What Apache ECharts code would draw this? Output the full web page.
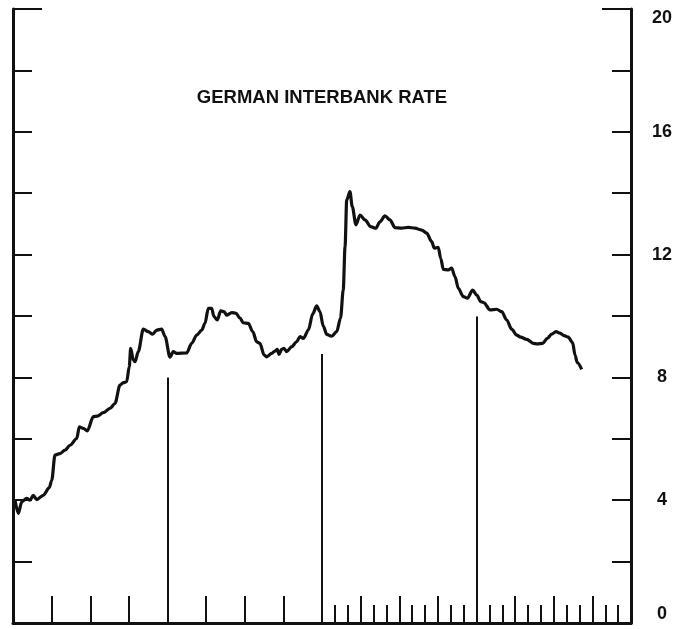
<!DOCTYPE html>
<html lang="en">
<head>
    <meta charset="UTF-8">
    <title>German Interbank Rate</title>
    <script src="https://cdn.jsdelivr.net/npm/echarts@6/dist/echarts.min.js"></script>
    <style>
        html, body { margin: 0; padding: 0; background: #ffffff; }
        #main { width: 683px; height: 629px; }
    </style>
</head>
<body>
    <div id="main"></div>
    <script>
        // months since start of chart (0..48) and the rate in percent
        var months = [0.16, 0.41, 0.68, 1.06, 1.32, 1.58, 1.84, 2.35, 2.82, 3.01, 3.26, 3.65, 4.04, 4.43, 4.95,
            5.15, 5.46, 5.77, 6.24, 6.55, 7.01, 7.53, 7.92, 8.31, 8.57, 8.83, 9.03, 9.14, 9.34, 9.48, 9.73,
            10.12, 10.51, 10.85, 11.16, 11.55, 11.81, 12.19, 12.45, 12.71, 13.49, 13.88, 14.27, 14.66, 14.91,
            15.17, 15.43, 15.61, 15.87, 16.13, 16.39, 16.60, 16.99, 17.32, 17.63, 17.89, 18.28, 18.62, 18.93,
            19.18, 19.50, 19.70, 20.09, 20.35, 20.53, 20.66, 20.87, 21.05, 21.26, 21.65, 22.03, 22.29, 22.55,
            22.94, 23.28, 23.59, 23.84, 24.10, 24.37, 24.75, 25.14, 25.44, 25.65, 25.79, 25.92, 26.17, 26.35,
            26.64, 26.95, 27.34, 27.78, 28.19, 28.50, 28.89, 29.28, 29.67, 30.19, 30.70, 31.22, 31.74, 32.13,
            32.52, 32.72, 33.03, 33.22, 33.42, 33.81, 34.07, 34.33, 34.59, 34.98, 35.29, 35.70, 36.02, 36.33,
            36.58, 37.05, 37.57, 37.96, 38.35, 38.73, 39.12, 39.43, 39.90, 40.41, 40.72, 41.14, 41.50, 41.84,
            42.17, 42.49, 42.80, 43.13, 43.47, 43.65, 43.83, 44.17];
        var rates = [4.00, 3.57, 3.95, 4.06, 4.00, 4.16, 4.02, 4.16, 4.41, 4.65, 5.47, 5.52, 5.63, 5.79, 6.01,
            6.39, 6.34, 6.26, 6.72, 6.74, 6.85, 6.99, 7.15, 7.75, 7.83, 7.86, 8.35, 8.95, 8.57, 8.51, 8.84,
            9.57, 9.49, 9.41, 9.54, 9.57, 9.33, 8.66, 8.84, 8.78, 8.80, 9.11, 9.38, 9.54, 9.76,
            10.25, 10.25, 9.98, 9.87, 10.17, 10.14, 10.03, 10.11, 10.09, 9.93, 9.78, 9.76, 9.49, 9.16,
            9.11, 8.73, 8.67, 8.78, 8.86, 8.91, 8.75, 8.91, 8.95, 8.84, 9.00, 9.16, 9.33, 9.27,
            9.54, 10.07, 10.33, 10.14, 9.67, 9.40, 9.34, 9.49, 9.93, 10.85, 12.26, 13.78, 14.05, 13.56,
            12.97, 13.29, 13.13, 12.91, 12.86, 13.07, 13.26, 13.13, 12.88, 12.86, 12.89, 12.86, 12.80, 12.70,
            12.42, 12.21, 12.24, 11.88, 11.52, 11.50, 11.56, 11.28, 10.90, 10.63, 10.58, 10.84, 10.68, 10.47,
            10.43, 10.20, 10.22, 10.14, 9.87, 9.57, 9.38, 9.31, 9.24, 9.11, 9.09, 9.11, 9.27, 9.41,
            9.49, 9.44, 9.36, 9.31, 9.13, 8.73, 8.48, 8.26];

        // year dividers and how high they reach
        var dividerMonths = [12, 24, 36];
        var dividerTops = [8.0, 8.76, 9.98];

        // tick positions
        var quarterTicks = [3, 6, 9, 15, 18, 21, 27, 30, 33, 39, 42, 45];
        var monthTicks = [25, 26, 28, 29, 31, 32, 34, 35, 37, 38, 40, 41, 43, 44, 46, 47];
        var yTickLabels = [0, 4, 8, 12, 16, 20];

        var chart = echarts.init(document.getElementById('main'));

        var seriesData = months.map(function (m, i) { return [m, rates[i]]; });
        var dividerLines = dividerMonths.map(function (m, i) {
            return [{ coord: [m, 0] }, { coord: [m, dividerTops[i]] }];
        });

        var ink = '#111111';
        var fontFamily = 'Liberation Sans, Arial, sans-serif';

        function yAxisBase(pos) {
            return {
                type: 'value', position: pos, min: 0, max: 20, interval: 2,
                axisLine: { show: true, onZero: false, lineStyle: { color: ink, width: 3 } },
                axisTick: { show: true, inside: true, length: 19, lineStyle: { color: ink, width: 2 } },
                axisLabel: { show: false },
                splitLine: { show: false }
            };
        }
        // the tick at 20 is drawn longer than the rest
        function yTopTick(pos) {
            return {
                type: 'value', position: pos, min: 0, max: 20, interval: 2,
                axisLine: { show: false, onZero: false },
                axisTick: { show: true, inside: true, length: 29, customValues: [20], lineStyle: { color: ink, width: 2 } },
                axisLabel: { show: false },
                splitLine: { show: false }
            };
        }

        var rightAxis = yAxisBase('right');
        rightAxis.axisLabel = {
            show: true,
            customValues: yTickLabels,
            margin: 31,
            align: 'center',
            color: ink,
            fontSize: 18,
            fontWeight: 'bold',
            fontFamily: fontFamily,
            verticalAlignMinLabel: 'bottom',
            verticalAlignMaxLabel: 'top'
        };

        var option = {
            animation: false,
            backgroundColor: '#ffffff',
            title: {
                text: 'GERMAN INTERBANK RATE',
                left: 322,
                top: 88,
                padding: 0,
                textAlign: 'center',
                textStyle: { color: ink, fontSize: 18.5, fontWeight: 'bold', fontFamily: fontFamily }
            },
            grid: { left: 13, right: 52, top: 9, bottom: 6 },
            xAxis: [{
                type: 'value', min: 0, max: 48, position: 'bottom',
                axisLine: { show: true, onZero: false, lineStyle: { color: ink, width: 3 } },
                axisTick: { show: true, inside: true, length: 27, customValues: quarterTicks, lineStyle: { color: ink, width: 2 } },
                axisLabel: { show: false },
                splitLine: { show: false }
            }, {
                type: 'value', min: 0, max: 48, position: 'bottom',
                axisLine: { show: false, onZero: false },
                axisTick: { show: true, inside: true, length: 18, customValues: monthTicks, lineStyle: { color: ink, width: 2 } },
                axisLabel: { show: false },
                splitLine: { show: false }
            }],
            yAxis: [yAxisBase('left'), rightAxis, yTopTick('left'), yTopTick('right')],
            series: [{
                type: 'line',
                data: seriesData,
                xAxisIndex: 0,
                yAxisIndex: 0,
                showSymbol: false,
                smooth: 0.3,
                smoothMonotone: 'x',
                lineStyle: { color: ink, width: 3.2 },
                markLine: {
                    silent: true,
                    symbol: ['none', 'none'],
                    label: { show: false },
                    lineStyle: { color: ink, width: 2, type: 'solid' },
                    data: dividerLines
                }
            }]
        };

        chart.setOption(option);
    </script>
</body>
</html>
